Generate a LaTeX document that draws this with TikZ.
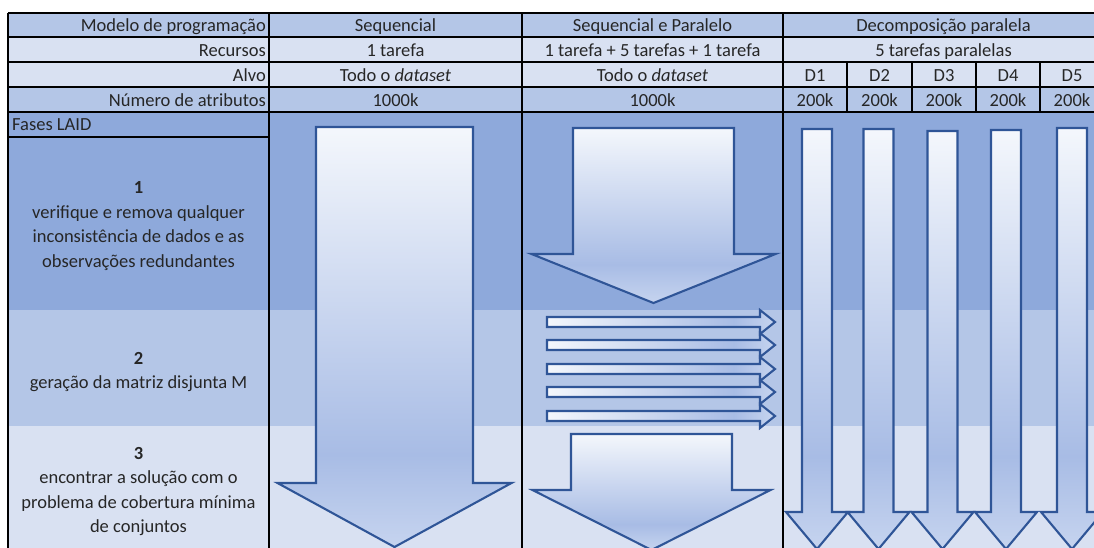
\documentclass[tikz,border=0pt]{standalone}
\usepackage{fontspec}
\setmainfont{Carlito}
\definecolor{bandA}{HTML}{8EA9DB}
\definecolor{bandB}{HTML}{B4C6E7}
\definecolor{bandC}{HTML}{D9E1F2}
\definecolor{arrline}{HTML}{2F5597}
\definecolor{txt}{HTML}{262626}
\definecolor{aTop}{HTML}{F4F7FC}
\definecolor{aDark}{HTML}{A8BCE5}
\definecolor{aBot}{HTML}{C6D4EF}
\pgfdeclareverticalshading{vgr}{100bp}{color(0bp)=(aBot); color(25bp)=(aBot); color(36bp)=(aDark); color(75bp)=(aTop); color(100bp)=(aTop)}
\pgfdeclarehorizontalshading{hgr}{100bp}{color(0bp)=(aTop); color(25bp)=(aTop); color(66bp)=(aDark); color(75bp)=(aBot); color(100bp)=(aBot)}
\tikzset{
  grid/.style={line width=1.5pt, draw=black},
  arr/.style={draw=arrline, line width=2.1pt, line join=miter},
  vsh/.style={arr, shading=vgr},
  hsh/.style={arr, shading=hgr},
  lbl/.style={inner sep=0pt, text=txt, font=\fontsize{18.5}{22}\selectfont},
  lblb/.style={lbl, font=\fontsize{18.5}{22}\selectfont\bfseries},
}
\newcommand{\DArrow}[6]{%
  \path[vsh] ({#1-#2},#3) -- ({#1+#2},#3) -- ({#1+#2},#4) -- ({#1+#5},#4) -- (#1,#6) -- ({#1-#5},#4) -- ({#1-#2},#4) -- cycle;}
\newcommand{\HArrow}[1]{%
  \path[hsh] (547,{#1-5}) -- (760,{#1-5}) -- (760,{#1-12}) -- (775,#1) -- (760,{#1+12}) -- (760,{#1+5}) -- (547,{#1+5}) -- cycle;}
\begin{document}
\begin{tikzpicture}[x=1pt,y=-1pt]
\useasboundingbox (0,0) rectangle (1094,547);
\clip (0,0) rectangle (1094,547);
% backgrounds
\fill[bandB] (8,13) rectangle (1104,37);
\fill[bandC] (8,37) rectangle (1104,87);
\fill[bandB] (8,87) rectangle (1104,112);
\fill[bandA] (8,112) rectangle (1104,310);
\fill[bandB] (8,310) rectangle (1104,426);
\fill[bandC] (8,426) rectangle (1104,560);
% grid
\foreach \yy in {13,37,62,87,112} \draw[grid] (8,\yy) -- (1104,\yy);
\draw[grid] (8,137) -- (269,137);
\foreach \xx in {8,269,522,783} \draw[grid] (\xx,13) -- (\xx,560);
\foreach \xx in {847,912,976,1040} \draw[grid] (\xx,62) -- (\xx,112);
% header texts
\node[lbl, anchor=base east] (h1) at (266,31.5) {Modelo de programação};
\node[lbl, anchor=base east] (h2) at (266,56.5) {Recursos};
\node[lbl, anchor=base east] (h3) at (266,81.5) {Alvo};
\node[lbl, anchor=base east] (h4) at (266,106.5) {Número de atributos};
\node[lbl, anchor=base west] (fases) at (12,130.5) {Fases LAID};
\node[lbl, anchor=base] (s1) at (395.5,31.5) {Sequencial};
\node[lbl, anchor=base] (s2) at (395.5,56.5) {1 tarefa};
\node[lbl, anchor=base] (s3) at (395.5,81.5) {Todo o \textit{dataset}};
\node[lbl, anchor=base] (s4) at (395.5,106.5) {1000k};
\node[lbl, anchor=base] (p1) at (652.5,31.5) {Sequencial e Paralelo};
\node[lbl, anchor=base] (p2) at (652.5,56.5) {1 tarefa + 5 tarefas + 1 tarefa};
\node[lbl, anchor=base] (p3) at (652.5,81.5) {Todo o \textit{dataset}};
\node[lbl, anchor=base] (p4) at (652.5,106.5) {1000k};
\node[lbl, anchor=base] (d1) at (943.5,31.5) {Decomposição paralela};
\node[lbl, anchor=base] (d2) at (943.5,56.5) {5 tarefas paralelas};
\node[lbl, anchor=base] (dA1) at (815,81.5) {D1};
\node[lbl, anchor=base] (dA2) at (879.5,81.5) {D2};
\node[lbl, anchor=base] (dA3) at (944,81.5) {D3};
\node[lbl, anchor=base] (dA4) at (1008,81.5) {D4};
\node[lbl, anchor=base] (dA5) at (1072,81.5) {D5};
\node[lbl, anchor=base] (dB1) at (815,106.5) {200k};
\node[lbl, anchor=base] (dB2) at (879.5,106.5) {200k};
\node[lbl, anchor=base] (dB3) at (944,106.5) {200k};
\node[lbl, anchor=base] (dB4) at (1008,106.5) {200k};
\node[lbl, anchor=base] (dB5) at (1072,106.5) {200k};
% phase texts
\node[lblb, anchor=base] (f1n) at (138.5,193.3) {1};
\node[lbl, anchor=base] (f1a) at (138.5,218) {verifique e remova qualquer};
\node[lbl, anchor=base] (f1b) at (138.5,242.5) {inconsistência de dados e as};
\node[lbl, anchor=base] (f1c) at (138.5,267) {observações redundantes};
\node[lblb, anchor=base] (f2n) at (138.5,364.3) {2};
\node[lbl, anchor=base] (f2a) at (138.5,388.5) {geração da matriz disjunta M};
\node[lblb, anchor=base] (f3n) at (138.5,459.3) {3};
\node[lbl, anchor=base] (f3a) at (138.5,483.5) {encontrar a solução com o};
\node[lbl, anchor=base] (f3b) at (138.5,508) {problema de cobertura mínima};
\node[lbl, anchor=base] (f3c) at (138.5,532.5) {de conjuntos};
% arrows
\DArrow{394.5}{78.5}{127}{483}{117}{547}
\DArrow{653.5}{80.5}{128}{254}{122}{303}
\DArrow{651.5}{80.5}{434}{490}{119}{550}
\foreach \yy in {322,345,369,392,416} {\HArrow{\yy}}
\DArrow{817}{15}{129}{512}{31}{549}
\DArrow{878.5}{15}{129}{512}{31}{549}
\DArrow{942.5}{15}{131}{512}{31}{549}
\DArrow{1006}{15}{130}{512}{31}{549}
\DArrow{1072}{15}{128}{512}{31}{549}
\end{tikzpicture}
\end{document}
